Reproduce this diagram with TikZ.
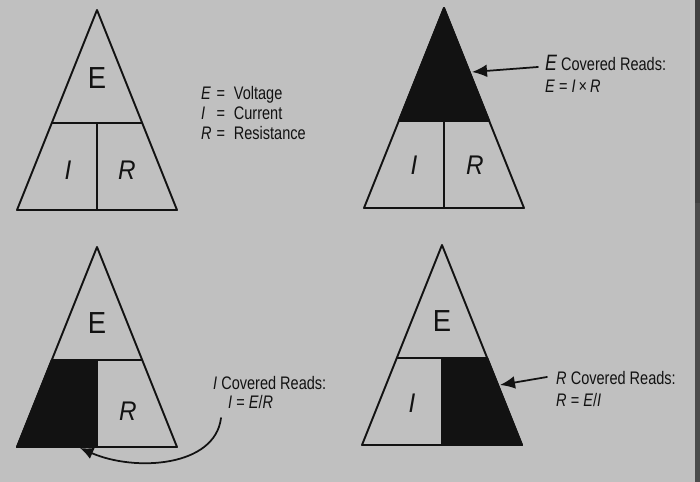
\documentclass[tikz,border=0pt]{standalone}
\usepackage{fontspec}
\setmainfont[FakeStretch=0.8]{Liberation Sans}
\newfontfamily\letterfont[FakeStretch=0.9]{Liberation Sans}
\usetikzlibrary{arrows.meta}
\definecolor{paper}{RGB}{192,192,192}
\definecolor{ink}{RGB}{18,18,18}

\begin{document}
\begin{tikzpicture}[x=0.03cm, y=0.03cm, line cap=round, line join=round,
    tri/.style={draw=ink, line width=1.6pt},
    cover/.style={fill=ink, draw=ink, line width=1.6pt},
    big/.style={font=\letterfont\fontsize{26}{26}\selectfont, inner sep=0pt, text=ink},
    ital/.style={font=\letterfont\fontsize{23}{23}\selectfont\itshape, inner sep=0pt, text=ink},
    note/.style={align=left, inner sep=0pt, text=ink},
    pointer/.style={draw=ink, line width=1.5pt, -{Latex[length=0.45cm,width=0.38cm]}}]
  \useasboundingbox (0,0) rectangle (700,482);
  \fill[paper] (0,0) rectangle (700,482);
  \fill[black!75] (695,279) rectangle (700,482);
  \fill[black!70] (695,0) rectangle (700,279);

  % the four triangles
  \foreach \ax/\ay in {97/472, 444/474, 97/235, 442/237}
    \draw[tri, shift={(\ax,\ay)}] (0,0) -- (-80,-200) -- (80,-200) -- cycle
      (-45.2,-113) -- (45.2,-113) (0,-113) -- (0,-200);

  % covered parts
  \fill[cover, shift={(444,474)}] (0,0) -- (-45.2,-113) -- (45.2,-113) -- cycle;
  \fill[cover, shift={(97,235)}] (-45.2,-113) -- (0,-113) -- (0,-200) -- (-80,-200) -- cycle;
  \fill[cover, shift={(442,237)}] (0,-113) -- (45.2,-113) -- (80,-200) -- (0,-200) -- cycle;

  % letters
  \node[big] (e1) at (97,404) {E};
  \node[ital] (i1) at (68,312) {I};
  \node[ital] (r1) at (127,312) {R};
  \node[ital] (i2) at (414,317) {I};
  \node[ital] (r2) at (475,317) {R};
  \node[big] (e3) at (97,159) {E};
  \node[ital] (r3) at (128,71) {R};
  \node[big] (e4) at (442,161) {E};
  \node[ital] (i4) at (412,79) {I};

  % key
  \node[note, anchor=north west, font=\fontsize{15.5}{17}\selectfont] (key) at (201,397)
    {\begin{tabular}{@{}l@{\hspace{0.15cm}=\hspace{0.26cm}}l@{}}
       \textit{E} & Voltage\\
       \textit{I} & Current\\
       \textit{R} & Resistance
     \end{tabular}};

  % what each covered triangle reads
  \node[note, anchor=base west, font=\fontsize{15.5}{19}\selectfont] (ecov) at (545,389)
    {{\fontsize{19}{19}\selectfont\itshape E} Covered Reads:\\
     \textit{E} = \textit{I}\,×\,\textit{R}};
  \node[note, anchor=base west, font=\fontsize{15.5}{17}\selectfont] (icov) at (213,73)
    {\textit{I} Covered Reads:\\
     \hspace*{0.45cm}\textit{I} = \textit{E}/\textit{R}};
  \node[note, anchor=base west, font=\fontsize{15.5}{19}\selectfont] (rcov) at (556,75)
    {\textit{R} Covered Reads:\\
     \textit{R} = \textit{E}/\textit{I}};

  \coordinate (etip) at (472,410);
  \coordinate (itip) at (80,34);
  \coordinate (rtip) at (500,97);
  \draw[pointer] ([shift={(-7,26)}]ecov.base west) -- (etip);
  \draw[pointer] ([shift={(-9,30)}]rcov.base west) -- (rtip);
  \draw[pointer, -{Latex[length=0.4cm,width=0.36cm]}] ([shift={(8,-9)}]icov.base west)
    .. controls (215,15) and (135,10) .. (itip);
\end{tikzpicture}
\end{document}
